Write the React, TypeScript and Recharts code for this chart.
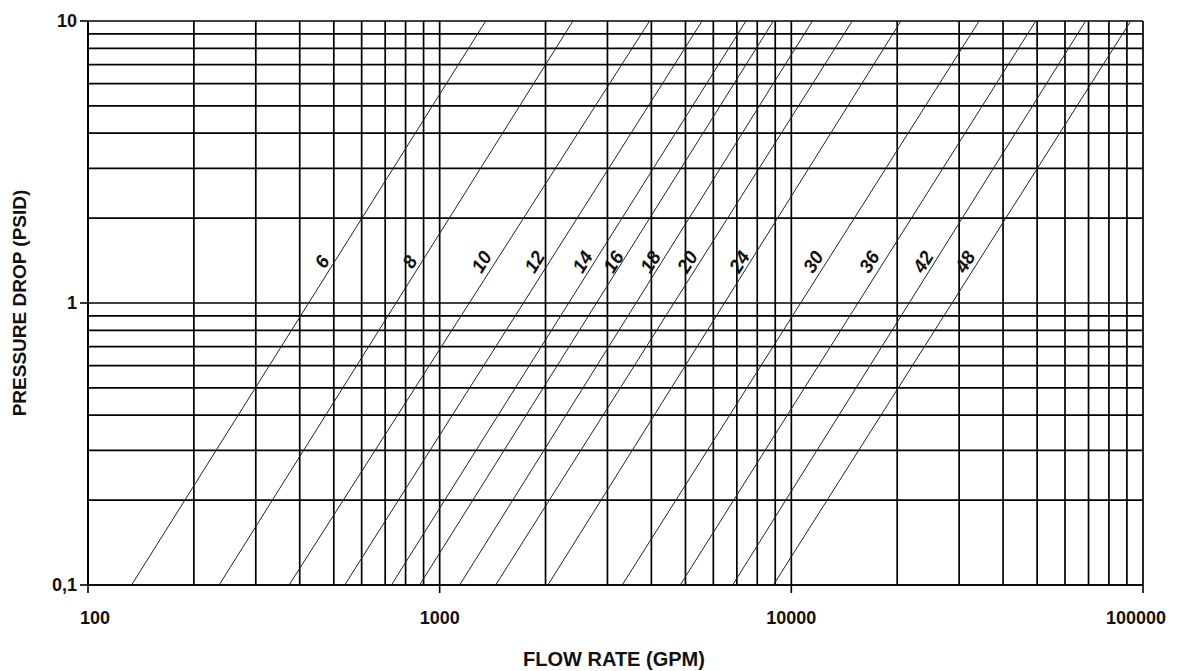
import React from 'react';
import { LineChart, Line, XAxis, YAxis, CartesianGrid, ReferenceDot } from 'recharts';

// pipe sizes (in) and where each line crosses the bottom (0.1 psid) and top (10 psid) of the chart
const sizes = ['6', '8', '10', '12', '14', '16', '18', '20', '24', '30', '36', '42', '48'];
const flowAtLowDrop = [133, 236, 373, 537, 729, 877, 1140, 1443, 2032, 3304, 4830, 6810, 8890];
const flowAtHighDrop = [1352, 2393, 3953, 5575, 7430, 8890, 11480, 14900, 20500, 34200, 49550, 68700, 92300];
const lowDrop = 0.1;
const highDrop = 10;

// where the size labels sit
const labelFlow = [463, 822, 1316, 1862, 2548, 3120, 3975, 5066, 7120, 11550, 16660, 23710, 31190];
const labelDrop = 1.4;

const flowTicks = [
  100, 200, 300, 400, 500, 600, 700, 800, 900,
  1000, 2000, 3000, 4000, 5000, 6000, 7000, 8000, 9000,
  10000, 20000, 30000, 40000, 50000, 60000, 70000, 80000, 90000,
  100000,
];
const dropTicks = [0.1, 0.2, 0.3, 0.4, 0.5, 0.6, 0.7, 0.8, 0.9, 1, 2, 3, 4, 5, 6, 7, 8, 9, 10];
const flowLabelValues = [100, 1000, 10000, 100000];
const dropLabelValues = [0.1, 1, 10];
const dropLabelTexts = ['0,1', '1', '10'];

const FONT = '"Liberation Sans", Arial, Helvetica, sans-serif';

const FlowTick = (props: any) => {
  const { x, y, payload } = props;
  const i = flowLabelValues.indexOf(payload.value);
  if (i < 0) return <g />;
  const dx = i === 0 ? 7 : i === flowLabelValues.length - 1 ? -7 : 0;
  return (
    <g>
      <line x1={x} y1={y} x2={x} y2={y + 8} stroke="#000" strokeWidth={1.6} />
      <text x={x + dx} y={y + 39} textAnchor="middle" fontFamily={FONT} fontWeight="bold" fontSize={18} fill="#111">
        {payload.value}
      </text>
    </g>
  );
};

const DropTick = (props: any) => {
  const { x, y, payload } = props;
  const i = dropLabelValues.findIndex((v) => Math.abs(v - payload.value) < 1e-9);
  if (i < 0) return <g />;
  return (
    <g>
      <line x1={x - 8} y1={y} x2={x} y2={y} stroke="#000" strokeWidth={1.6} />
      <text x={x - 11} y={y + 6} textAnchor="end" fontFamily={FONT} fontWeight="bold" fontSize={18} fill="#111">
        {dropLabelTexts[i]}
      </text>
    </g>
  );
};

export default function App() {
  return (
    <div style={{ position: 'absolute', left: 0, top: 0, background: '#fff' }}>
      <LineChart width={1181} height={671} margin={{ top: 21, right: 38, left: 0, bottom: 0 }}>
        <CartesianGrid stroke="#000" strokeWidth={1.7} horizontal vertical />
        <XAxis
          dataKey="flow"
          type="number"
          scale="log"
          domain={[100, 100000]}
          allowDataOverflow
          ticks={flowTicks}
          interval={0}
          height={86}
          tickSize={0}
          tickMargin={0}
          tick={<FlowTick />}
          axisLine={{ stroke: '#000', strokeWidth: 1.7 }}
          label={{
            content: () => (
              <text x={614} y={666} textAnchor="middle" fontFamily={FONT} fontWeight="bold" fontSize={20} fill="#111">
                FLOW RATE (GPM)
              </text>
            ),
          }}
        />
        <YAxis
          dataKey="dp"
          type="number"
          scale="log"
          domain={[0.1, 10]}
          allowDataOverflow
          ticks={dropTicks}
          interval={0}
          width={88}
          tickSize={0}
          tickMargin={0}
          tick={<DropTick />}
          axisLine={{ stroke: '#000', strokeWidth: 1.7 }}
          label={{
            content: () => (
              <text
                x={19}
                y={303}
                transform="rotate(-90 19 303)"
                textAnchor="middle"
                dominantBaseline="central"
                fontFamily={FONT}
                fontWeight="bold"
                fontSize={19}
                fill="#111"
              >
                PRESSURE DROP (PSID)
              </text>
            ),
          }}
        />
        {sizes.map((s, i) => (
          <Line
            key={s}
            data={[
              { flow: flowAtLowDrop[i], dp: lowDrop },
              { flow: flowAtHighDrop[i], dp: highDrop },
            ]}
            dataKey="dp"
            type="linear"
            stroke="#222"
            strokeWidth={1}
            dot={false}
            activeDot={false}
            isAnimationActive={false}
          />
        ))}
        {sizes.map((s, i) => (
          <ReferenceDot
            key={'lbl' + s}
            x={labelFlow[i]}
            y={labelDrop}
            r={0}
            shape={(p: any) => (
              <text
                x={p.cx}
                y={p.cy}
                transform={`rotate(-58 ${p.cx} ${p.cy})`}
                textAnchor="middle"
                dominantBaseline="central"
                fontFamily={FONT}
                fontWeight="bold"
                fontStyle="italic"
                fontSize={19}
                fill="#111"
              >
                {s}
              </text>
            )}
          />
        ))}
      </LineChart>
    </div>
  );
}
